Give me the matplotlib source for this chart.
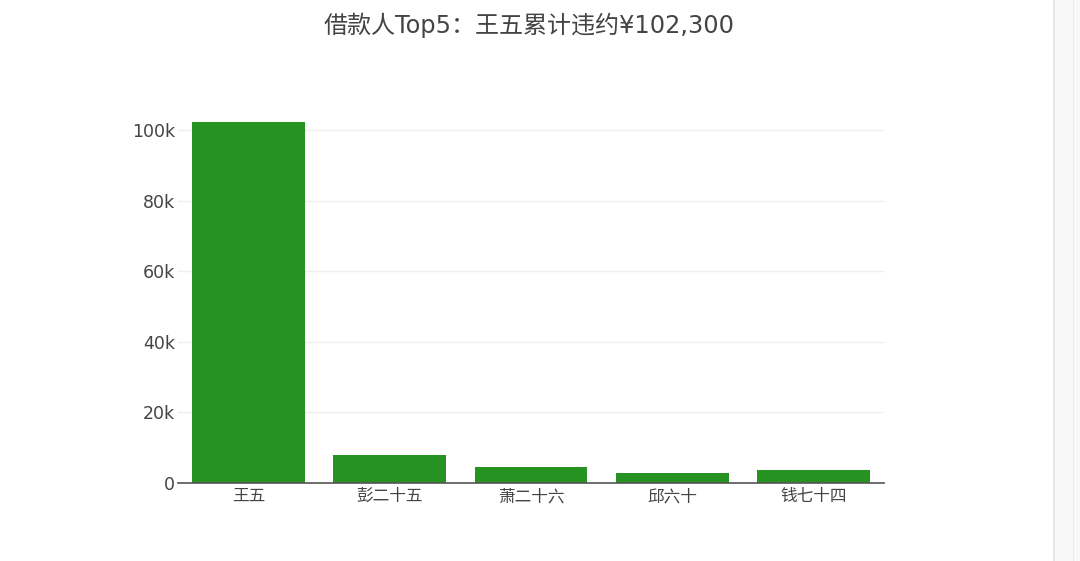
import matplotlib
matplotlib.use("Agg")
import matplotlib.pyplot as plt
from matplotlib.patches import Rectangle
from matplotlib.ticker import FuncFormatter

plt.rcParams['font.family'] = ['DejaVu Sans', 'Noto Sans CJK SC']

# data
names = ['王五', '彭二十五', '萧二十六', '邱六十', '钱七十四']
amounts = [102300, 7800, 4600, 2800, 3800]
y_ticks = [0, 20000, 40000, 60000, 80000, 100000]
title = '借款人Top5：王五累计违约¥102,300'

text_color = '#444444'
bar_color = '#269222'

fig = plt.figure(figsize=(10.8, 5.61), dpi=100)
ax = fig.add_axes([0.1648, 0.139, 0.6537, 0.6775])

ax.bar(range(len(names)), amounts, width=0.8, color=bar_color, zorder=3)
ax.set_xlim(-0.5, len(names) - 0.5)
ax.set_ylim(0, max(amounts) * 1.0526)

ax.set_yticks(y_ticks)
ax.yaxis.set_major_formatter(FuncFormatter(lambda v, p: '0' if v == 0 else f'{int(v/1000)}k'))
ax.set_xticks(range(len(names)))
ax.set_xticklabels(names)
ax.grid(axis='y', color='#eeeeee', linewidth=1, zorder=0)

for s in ['top', 'right', 'left']:
    ax.spines[s].set_visible(False)
ax.spines['bottom'].set_color('#555555')
ax.spines['bottom'].set_linewidth(1.2)
ax.spines['bottom'].set_zorder(4)

ax.tick_params(axis='y', length=0, labelsize=12.5, labelcolor=text_color, pad=2.3)
ax.tick_params(axis='x', length=0, labelsize=12, labelcolor=text_color, pad=3)

fig.text(0.49, 0.955, title, ha='center', va='center', fontsize=17.3, color=text_color)

# scrollbar strip at the right edge of the screenshot
fig.patches.append(Rectangle((1053/1080, 0), 27/1080, 1, transform=fig.transFigure,
                             facecolor='#f8f8f8', edgecolor='none', zorder=0))
fig.patches.append(Rectangle((1053/1080, 0), 2/1080, 1, transform=fig.transFigure,
                             facecolor='#e6e6e6', edgecolor='none', zorder=1))
fig.patches.append(Rectangle((1073/1080, 0), 1/1080, 1, transform=fig.transFigure,
                             facecolor='#ececec', edgecolor='none', zorder=1))

fig.savefig('out.png', dpi=100)
